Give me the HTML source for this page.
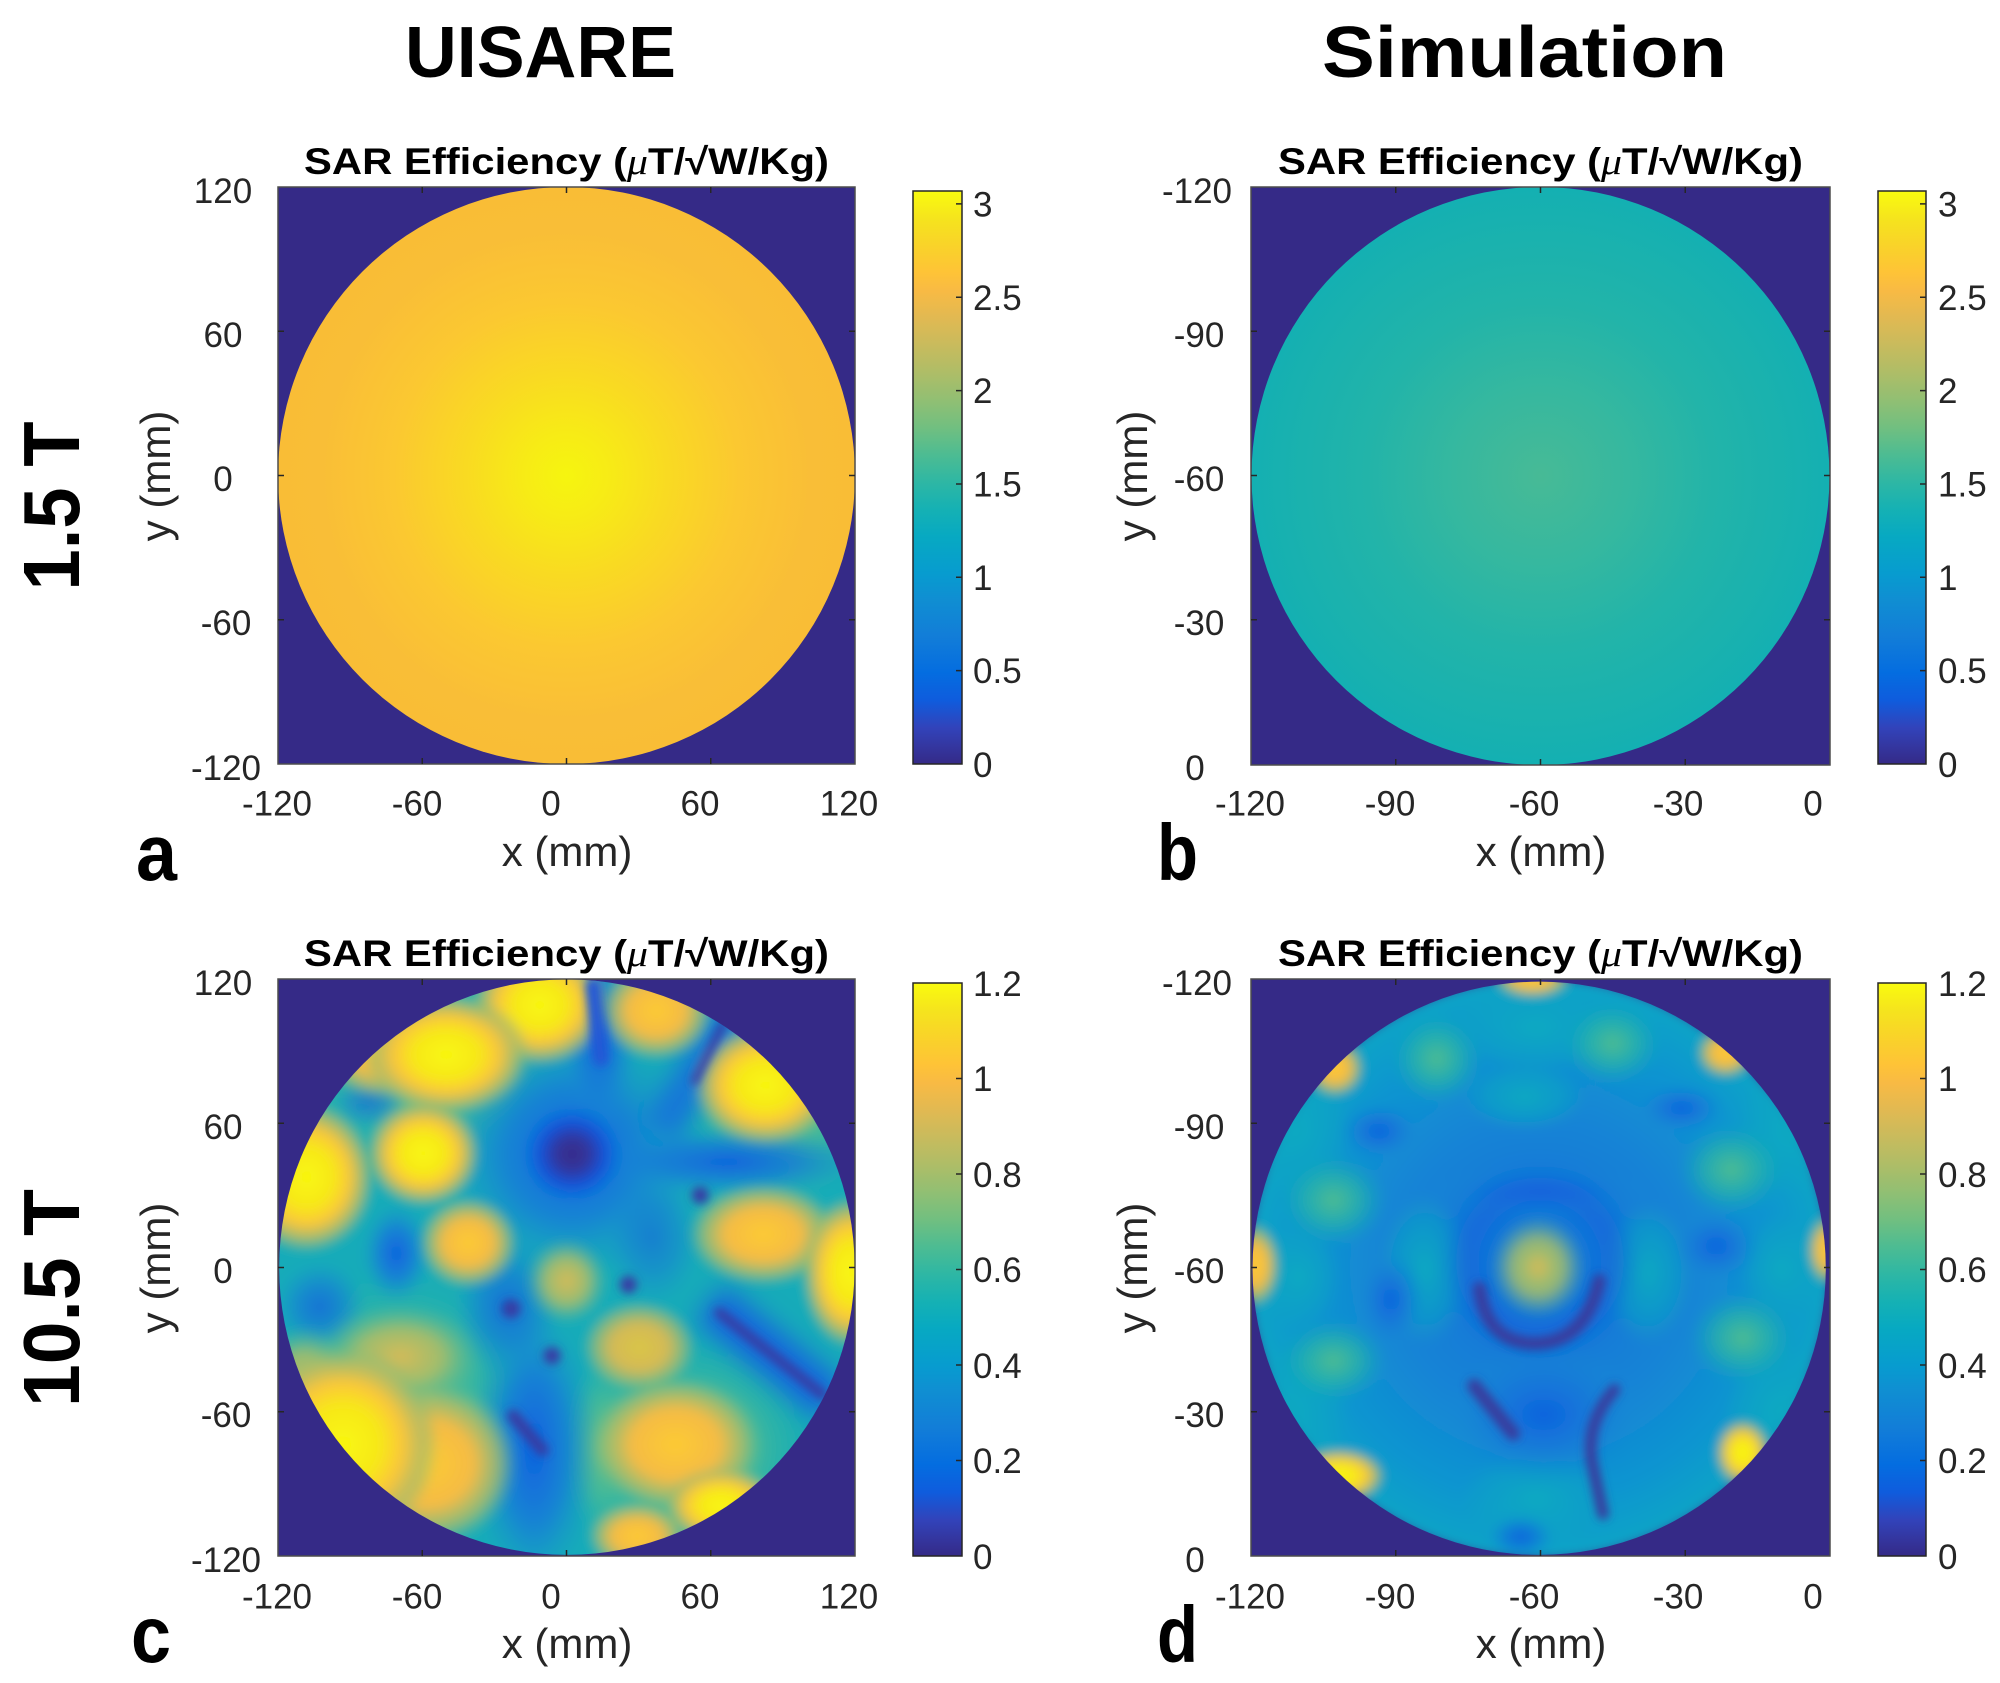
<!DOCTYPE html>
<html><head><meta charset="utf-8"><style>
html,body{margin:0;padding:0;background:#fff;}
svg{display:block;}
text{font-family:"Liberation Sans",Arial,sans-serif;fill:#262626;}
.big{fill:#000;font-weight:bold;}
.tk{font-size:35px;}
.lb{font-size:42px;}
.tt{font-size:37px;font-weight:bold;fill:#000;}
</style></head><body>
<svg width="2000" height="1683" viewBox="0 0 2000 1683" xmlns="http://www.w3.org/2000/svg">
<defs>
<linearGradient id="parula" x1="0" y1="1" x2="0" y2="0">
<stop offset="0" stop-color="#352a87"/><stop offset="0.063" stop-color="#3243ba"/><stop offset="0.111" stop-color="#0f5cdd"/><stop offset="0.159" stop-color="#046de0"/><stop offset="0.222" stop-color="#127dd8"/><stop offset="0.286" stop-color="#108ed2"/><stop offset="0.333" stop-color="#079ccf"/><stop offset="0.397" stop-color="#07a9c2"/><stop offset="0.444" stop-color="#15b1b4"/><stop offset="0.492" stop-color="#2eb7a4"/><stop offset="0.540" stop-color="#4dbc92"/><stop offset="0.587" stop-color="#71bf80"/><stop offset="0.635" stop-color="#91bf73"/><stop offset="0.683" stop-color="#aebd67"/><stop offset="0.730" stop-color="#c8bb5d"/><stop offset="0.778" stop-color="#e1b952"/><stop offset="0.825" stop-color="#f8ba44"/><stop offset="0.857" stop-color="#fec337"/><stop offset="0.905" stop-color="#f9d329"/><stop offset="0.952" stop-color="#f5e41d"/><stop offset="1" stop-color="#f9fb0e"/>
</linearGradient>
<radialGradient id="gA" cx="0.5" cy="0.5" r="0.5">
<stop offset="0" stop-color="#f6f50f"/><stop offset="0.15" stop-color="#f7eb16"/><stop offset="0.35" stop-color="#f9da22"/><stop offset="0.6" stop-color="#fbc831"/><stop offset="0.85" stop-color="#f9be37"/><stop offset="1" stop-color="#f9bd36"/>
</radialGradient>
<radialGradient id="gBb" cx="0.5" cy="0.5" r="0.5">
<stop offset="0" stop-color="#47ba96"/><stop offset="0.3" stop-color="#36b89f"/><stop offset="0.6" stop-color="#22b4a9"/><stop offset="1" stop-color="#14b0b2"/>
</radialGradient>
<radialGradient id="gY"><stop offset="0" stop-color="#f9f80f"/><stop offset="0.4" stop-color="#f7e71a"/><stop offset="0.62" stop-color="#fbc63a"/><stop offset="0.82" stop-color="#b4bc64" stop-opacity="0.85"/><stop offset="1" stop-color="#6dbe82" stop-opacity="0"/></radialGradient>
<radialGradient id="gO"><stop offset="0" stop-color="#fccb33"/><stop offset="0.5" stop-color="#f5bb45"/><stop offset="0.78" stop-color="#a8bd69" stop-opacity="0.8"/><stop offset="1" stop-color="#5dbd8a" stop-opacity="0"/></radialGradient>
<radialGradient id="gT"><stop offset="0" stop-color="#d6bb57"/><stop offset="0.5" stop-color="#a9bd68" stop-opacity="0.9"/><stop offset="1" stop-color="#4dbc92" stop-opacity="0"/></radialGradient>
<radialGradient id="gG"><stop offset="0" stop-color="#70bf80"/><stop offset="0.5" stop-color="#4bbb93" stop-opacity="0.75"/><stop offset="1" stop-color="#2eb7a4" stop-opacity="0"/></radialGradient>
<radialGradient id="gGs"><stop offset="0" stop-color="#4fbc91"/><stop offset="0.5" stop-color="#2db6a4" stop-opacity="0.7"/><stop offset="1" stop-color="#12aab8" stop-opacity="0"/></radialGradient>
<radialGradient id="gC"><stop offset="0" stop-color="#0ca9c1"/><stop offset="0.6" stop-color="#0ca5c4" stop-opacity="0.6"/><stop offset="1" stop-color="#10a8bf" stop-opacity="0"/></radialGradient>
<radialGradient id="gB"><stop offset="0" stop-color="#0f62de"/><stop offset="0.5" stop-color="#1478d9" stop-opacity="0.75"/><stop offset="1" stop-color="#108ed2" stop-opacity="0"/></radialGradient>
<radialGradient id="gD"><stop offset="0" stop-color="#352a87"/><stop offset="0.3" stop-color="#33379f"/><stop offset="0.55" stop-color="#1353d8"/><stop offset="0.8" stop-color="#0f73dc" stop-opacity="0.6"/><stop offset="1" stop-color="#108ed2" stop-opacity="0"/></radialGradient>
<radialGradient id="gDbase"><stop offset="0" stop-color="#1470da"/><stop offset="0.5" stop-color="#1483d6"/><stop offset="0.8" stop-color="#0f95d0"/><stop offset="1" stop-color="#0aa5c6"/></radialGradient>
<filter id="bl" x="-30%" y="-30%" width="160%" height="160%"><feGaussianBlur stdDeviation="12"/></filter>
<filter id="bl2" x="-30%" y="-30%" width="160%" height="160%"><feGaussianBlur stdDeviation="30"/></filter>
<filter id="soft" x="-5%" y="-5%" width="110%" height="110%"><feGaussianBlur stdDeviation="14"/></filter>
<clipPath id="clipC"><circle cx="776" cy="776" r="753"/></clipPath>
<clipPath id="clipD"><circle cx="768" cy="778" r="749"/></clipPath>
</defs>

<!-- Column titles -->
<text class="big" x="405" y="77" font-size="72" textLength="271" lengthAdjust="spacingAndGlyphs">UISARE</text>
<text class="big" x="1322" y="77" font-size="72" textLength="405" lengthAdjust="spacingAndGlyphs">Simulation</text>
<!-- Row labels -->
<text class="big" transform="translate(79,506) rotate(-90)" text-anchor="middle" font-size="80" textLength="169" lengthAdjust="spacingAndGlyphs">1.5 T</text>
<text class="big" transform="translate(79,1298) rotate(-90)" text-anchor="middle" font-size="80" textLength="218" lengthAdjust="spacingAndGlyphs">10.5 T</text>
<!-- Panel letters -->
<text class="big" x="136" y="880" font-size="80" textLength="41" lengthAdjust="spacingAndGlyphs">a</text>
<text class="big" x="1157" y="880" font-size="80" textLength="41" lengthAdjust="spacingAndGlyphs">b</text>
<text class="big" x="131" y="1662" font-size="80" textLength="40" lengthAdjust="spacingAndGlyphs">c</text>
<text class="big" x="1157" y="1662" font-size="80" textLength="41" lengthAdjust="spacingAndGlyphs">d</text>

<!-- Axis titles -->
<text class="tt" x="566.5" y="174" text-anchor="middle" textLength="525" lengthAdjust="spacingAndGlyphs">SAR Efficiency (<tspan font-family="Liberation Serif" font-style="italic" font-weight="normal">μ</tspan>T/√W/Kg)</text>
<text class="tt" x="1540.5" y="174" text-anchor="middle" textLength="525" lengthAdjust="spacingAndGlyphs">SAR Efficiency (<tspan font-family="Liberation Serif" font-style="italic" font-weight="normal">μ</tspan>T/√W/Kg)</text>
<text class="tt" x="566.5" y="966" text-anchor="middle" textLength="525" lengthAdjust="spacingAndGlyphs">SAR Efficiency (<tspan font-family="Liberation Serif" font-style="italic" font-weight="normal">μ</tspan>T/√W/Kg)</text>
<text class="tt" x="1540.5" y="966" text-anchor="middle" textLength="525" lengthAdjust="spacingAndGlyphs">SAR Efficiency (<tspan font-family="Liberation Serif" font-style="italic" font-weight="normal">μ</tspan>T/√W/Kg)</text>

<!-- ===== Panel a ===== -->
<rect x="278" y="187" width="577" height="577" fill="#352a87"/>
<circle cx="566.5" cy="475.5" r="288.5" fill="url(#gA)"/>
<!-- ===== Panel b ===== -->
<rect x="1251" y="187" width="579" height="578" fill="#352a87"/>
<circle cx="1540.5" cy="476" r="289" fill="url(#gBb)"/>

<!-- ===== Panel c ===== -->
<rect x="278" y="979" width="577" height="577" fill="#352a87"/>
<svg x="278" y="979" width="577" height="577" viewBox="20 22 1510 1510" preserveAspectRatio="none">
<g clip-path="url(#clipC)">
<g filter="url(#soft)">
<rect x="-50" y="-50" width="1650" height="1650" fill="#15abb9"/>
<ellipse cx="330" cy="1150" rx="380" ry="380" fill="url(#gG)"/>
<ellipse cx="1100" cy="1250" rx="340" ry="300" fill="url(#gG)"/>
<ellipse cx="1350" cy="330" rx="300" ry="280" fill="url(#gG)"/>
<ellipse cx="400" cy="250" rx="360" ry="260" fill="url(#gG)"/>
<ellipse cx="870" cy="1250" rx="120" ry="250" fill="url(#gG)"/>
<ellipse cx="600" cy="200" rx="80" ry="200" fill="url(#gG)"/>
<ellipse cx="790" cy="480" rx="330" ry="320" fill="url(#gB)"/>
<ellipse cx="790" cy="480" rx="240" ry="240" fill="url(#gB)"/>
<ellipse cx="860" cy="170" rx="100" ry="250" fill="url(#gB)"/>
<ellipse cx="690" cy="1250" rx="170" ry="360" fill="url(#gB)"/>
<ellipse cx="690" cy="1250" rx="110" ry="300" fill="url(#gB)"/>
<ellipse cx="330" cy="740" rx="90" ry="130" fill="url(#gB)"/>
<ellipse cx="330" cy="740" rx="60" ry="90" fill="url(#gB)"/>
<ellipse cx="130" cy="880" rx="120" ry="120" fill="url(#gB)" opacity="0.8"/>
<ellipse cx="260" cy="340" rx="100" ry="75" fill="url(#gB)" opacity="0.7"/>
<ellipse cx="1200" cy="500" rx="360" ry="90" fill="url(#gB)"/>
<ellipse cx="620" cy="880" rx="140" ry="190" fill="url(#gB)" opacity="0.8"/>
<ellipse cx="1000" cy="700" rx="130" ry="180" fill="url(#gB)" opacity="0.6"/>
<g filter="url(#bl2)">
<line x1="1150" y1="870" x2="1470" y2="1130" stroke="#1468db" stroke-width="120"/>
<line x1="1020" y1="420" x2="1210" y2="110" stroke="#1674d9" stroke-width="100"/>
</g>
<!-- warm -->
<ellipse cx="705" cy="90" rx="180" ry="160" fill="url(#gY)"/>
<ellipse cx="290" cy="215" rx="150" ry="120" fill="url(#gO)"/>
<ellipse cx="460" cy="220" rx="220" ry="160" fill="url(#gY)"/>
<ellipse cx="1010" cy="105" rx="150" ry="130" fill="url(#gO)"/>
<ellipse cx="1295" cy="300" rx="190" ry="160" fill="url(#gY)"/>
<ellipse cx="95" cy="540" rx="180" ry="200" fill="url(#gY)"/>
<ellipse cx="400" cy="478" rx="150" ry="140" fill="url(#gY)"/>
<ellipse cx="518" cy="712" rx="130" ry="120" fill="url(#gO)"/>
<ellipse cx="775" cy="812" rx="110" ry="115" fill="url(#gT)"/>
<ellipse cx="1290" cy="690" rx="200" ry="135" fill="url(#gO)"/>
<ellipse cx="1520" cy="790" rx="130" ry="200" fill="url(#gY)"/>
<ellipse cx="965" cy="985" rx="150" ry="120" fill="url(#gO)" opacity="0.85"/>
<ellipse cx="340" cy="1010" rx="220" ry="140" fill="url(#gT)"/>
<ellipse cx="90" cy="1080" rx="130" ry="150" fill="url(#gT)"/>
<ellipse cx="410" cy="1290" rx="240" ry="220" fill="url(#gO)"/>
<ellipse cx="190" cy="1240" rx="250" ry="260" fill="url(#gY)"/>
<ellipse cx="1060" cy="1240" rx="230" ry="180" fill="url(#gO)"/>
<ellipse cx="1180" cy="1400" rx="150" ry="100" fill="url(#gY)"/>
<ellipse cx="960" cy="1480" rx="130" ry="90" fill="url(#gO)"/>
<!-- dark -->
<ellipse cx="790" cy="480" rx="150" ry="145" fill="url(#gD)"/>
</g>
<g filter="url(#bl)" stroke="#383ea4" fill="#383ea4" stroke-linecap="round">
<line x1="845" y1="40" x2="865" y2="230" stroke="#2358d6" stroke-width="40"/>
<line x1="1110" y1="290" x2="1185" y2="140" stroke-width="20"/>
<line x1="1175" y1="895" x2="1445" y2="1110" stroke-width="26"/>
<line x1="635" y1="1165" x2="712" y2="1255" stroke-width="32"/>
<circle cx="1125" cy="588" r="22"/>
<circle cx="937" cy="822" r="22"/>
<circle cx="630" cy="885" r="24"/>
<circle cx="737" cy="1008" r="22"/>
</g>
</g>
</svg>

<!-- ===== Panel d ===== -->
<rect x="1251" y="979" width="579" height="577" fill="#352a87"/>
<svg x="1251" y="979" width="579" height="577" viewBox="15 22 1513 1508" preserveAspectRatio="none">
<g clip-path="url(#clipD)">
<g filter="url(#soft)">
<circle cx="768" cy="778" r="760" fill="url(#gDbase)"/>
<ellipse cx="470" cy="780" rx="120" ry="200" fill="url(#gC)"/>
<ellipse cx="1050" cy="790" rx="120" ry="190" fill="url(#gC)"/>
<ellipse cx="760" cy="1380" rx="200" ry="130" fill="url(#gC)"/>
<ellipse cx="760" cy="150" rx="220" ry="120" fill="url(#gC)"/>
<ellipse cx="130" cy="420" rx="150" ry="170" fill="url(#gC)"/>
<ellipse cx="1420" cy="420" rx="140" ry="170" fill="url(#gC)"/>
<ellipse cx="120" cy="1150" rx="150" ry="170" fill="url(#gC)"/>
<ellipse cx="1400" cy="1150" rx="150" ry="170" fill="url(#gC)"/>
<ellipse cx="730" cy="330" rx="160" ry="90" fill="url(#gC)"/>
<ellipse cx="1400" cy="780" rx="110" ry="140" fill="url(#gC)"/>
<ellipse cx="140" cy="800" rx="110" ry="140" fill="url(#gC)"/>
<ellipse cx="500" cy="230" rx="120" ry="120" fill="url(#gGs)"/>
<ellipse cx="960" cy="190" rx="130" ry="110" fill="url(#gGs)"/>
<ellipse cx="230" cy="600" rx="140" ry="120" fill="url(#gGs)"/>
<ellipse cx="1270" cy="520" rx="140" ry="120" fill="url(#gGs)"/>
<ellipse cx="230" cy="1020" rx="140" ry="110" fill="url(#gGs)"/>
<ellipse cx="1300" cy="960" rx="140" ry="120" fill="url(#gGs)"/>
<ellipse cx="350" cy="420" rx="110" ry="80" fill="url(#gB)"/>
<ellipse cx="1140" cy="360" rx="120" ry="70" fill="url(#gB)"/>
<ellipse cx="1230" cy="720" rx="120" ry="100" fill="url(#gB)"/>
<ellipse cx="380" cy="860" rx="90" ry="130" fill="url(#gB)"/>
<ellipse cx="770" cy="580" rx="290" ry="70" fill="url(#gB)"/>
<ellipse cx="780" cy="1160" rx="260" ry="190" fill="url(#gB)"/>
<ellipse cx="720" cy="1480" rx="90" ry="60" fill="url(#gB)"/>
<g filter="url(#bl2)"><circle cx="770" cy="760" r="190" fill="none" stroke="#1462db" stroke-width="60" opacity="0.8"/></g>
<ellipse cx="765" cy="775" rx="125" ry="135" fill="url(#gT)"/>
<ellipse cx="765" cy="775" rx="65" ry="70" fill="url(#gT)" opacity="0.8"/>
<ellipse cx="25" cy="770" rx="65" ry="110" fill="url(#gO)"/>
<ellipse cx="235" cy="255" rx="75" ry="75" fill="url(#gO)"/>
<ellipse cx="1255" cy="215" rx="75" ry="65" fill="url(#gO)"/>
<ellipse cx="245" cy="1320" rx="120" ry="70" fill="url(#gY)"/>
<ellipse cx="1300" cy="1260" rx="70" ry="85" fill="url(#gY)"/>
<ellipse cx="1520" cy="730" rx="50" ry="90" fill="url(#gO)"/>
<ellipse cx="750" cy="25" rx="100" ry="45" fill="url(#gO)"/>
</g>
<g filter="url(#bl)" fill="none" stroke="#393c9f" stroke-linecap="round">
<path d="M612 830 Q630 975 760 975 Q890 970 925 810" stroke-width="34"/>
<path d="M598 1085 L700 1210" stroke-width="36"/>
<path d="M965 1095 Q890 1180 905 1280 L935 1420" stroke-width="30"/>
</g>
</g>
</svg>

<!-- Axes boxes and ticks -->
<g fill="none" stroke="#4d4d4d" stroke-width="1.5">
<rect x="278" y="187" width="577" height="577"/>
<rect x="1251" y="187" width="579" height="578"/>
<rect x="278" y="979" width="577" height="577"/>
<rect x="1251" y="979" width="579" height="577"/>
</g>
<g stroke="#262626" stroke-width="1.5">
<path d="M422.25 187v6M566.5 187v6M710.75 187v6M422.25 764v-6M566.5 764v-6M710.75 764v-6M278 331.25h6M278 475.5h6M278 619.75h6M855 331.25h-6M855 475.5h-6M855 619.75h-6"/>
<path d="M1395.75 187v6M1540.5 187v6M1685.25 187v6M1395.75 765v-6M1540.5 765v-6M1685.25 765v-6M1251 331.25h6M1251 475.5h6M1251 619.75h6M1830 331.25h-6M1830 475.5h-6M1830 619.75h-6"/>
<path d="M422.25 979v6M566.5 979v6M710.75 979v6M422.25 1556v-6M566.5 1556v-6M710.75 1556v-6M278 1123.25h6M278 1267.5h6M278 1411.75h6M855 1123.25h-6M855 1267.5h-6M855 1411.75h-6"/>
<path d="M1395.75 979v6M1540.5 979v6M1685.25 979v6M1395.75 1556v-6M1540.5 1556v-6M1685.25 1556v-6M1251 1123.25h6M1251 1267.5h6M1251 1411.75h6M1830 1123.25h-6M1830 1267.5h-6M1830 1411.75h-6"/>
</g>

<!-- Colorbars -->
<rect x="913" y="191" width="49" height="573" fill="url(#parula)" stroke="#262626" stroke-width="1.5"/>
<rect x="1878" y="191" width="48" height="573" fill="url(#parula)" stroke="#262626" stroke-width="1.5"/>
<rect x="913" y="983" width="49" height="573" fill="url(#parula)" stroke="#262626" stroke-width="1.5"/>
<rect x="1878" y="983" width="48" height="573" fill="url(#parula)" stroke="#262626" stroke-width="1.5"/>
<g stroke="#262626" stroke-width="1.5">
<path d="M962 670.65h-6M962 577.3h-6M962 483.95h-6M962 390.6h-6M962 297.25h-6M962 203.9h-6"/>
<path d="M1926 670.65h-6M1926 577.3h-6M1926 483.95h-6M1926 390.6h-6M1926 297.25h-6M1926 203.9h-6"/>
<path d="M962 1460.5h-6M962 1365h-6M962 1269.5h-6M962 1174h-6M962 1078.5h-6"/>
<path d="M1926 1460.5h-6M1926 1365h-6M1926 1269.5h-6M1926 1174h-6M1926 1078.5h-6"/>
</g>

<!-- Colorbar labels -->
<g class="tk">
<text x="973" y="777">0</text><text x="973" y="683">0.5</text><text x="973" y="590">1</text><text x="973" y="496.5">1.5</text><text x="973" y="403">2</text><text x="973" y="310">2.5</text><text x="973" y="216.5">3</text>
<text x="1938" y="777">0</text><text x="1938" y="683">0.5</text><text x="1938" y="590">1</text><text x="1938" y="496.5">1.5</text><text x="1938" y="403">2</text><text x="1938" y="310">2.5</text><text x="1938" y="216.5">3</text>
<text x="973" y="1569">0</text><text x="973" y="1473">0.2</text><text x="973" y="1378">0.4</text><text x="973" y="1282">0.6</text><text x="973" y="1187">0.8</text><text x="973" y="1091">1</text><text x="973" y="996">1.2</text>
<text x="1938" y="1569">0</text><text x="1938" y="1473">0.2</text><text x="1938" y="1378">0.4</text><text x="1938" y="1282">0.6</text><text x="1938" y="1187">0.8</text><text x="1938" y="1091">1</text><text x="1938" y="996">1.2</text>
</g>

<!-- Y tick labels -->
<g class="tk" text-anchor="middle">
<text x="223" y="203">120</text><text x="223" y="347">60</text><text x="223" y="491">0</text><text x="226" y="635">-60</text><text x="226" y="780">-120</text>
<text x="1197" y="203">-120</text><text x="1199" y="347">-90</text><text x="1199" y="491">-60</text><text x="1199" y="635">-30</text><text x="1195" y="780">0</text>
<text x="223" y="995">120</text><text x="223" y="1139">60</text><text x="223" y="1283">0</text><text x="226" y="1427">-60</text><text x="226" y="1572">-120</text>
<text x="1197" y="995">-120</text><text x="1199" y="1139">-90</text><text x="1199" y="1283">-60</text><text x="1199" y="1427">-30</text><text x="1195" y="1572">0</text>
</g>

<!-- X tick labels -->
<g class="tk" text-anchor="middle">
<text x="277" y="815.5">-120</text><text x="417" y="815.5">-60</text><text x="551" y="815.5">0</text><text x="700" y="815.5">60</text><text x="849" y="815.5">120</text>
<text x="1250" y="815.5">-120</text><text x="1390" y="815.5">-90</text><text x="1534" y="815.5">-60</text><text x="1678" y="815.5">-30</text><text x="1813" y="815.5">0</text>
<text x="277" y="1608.5">-120</text><text x="417" y="1608.5">-60</text><text x="551" y="1608.5">0</text><text x="700" y="1608.5">60</text><text x="849" y="1608.5">120</text>
<text x="1250" y="1608.5">-120</text><text x="1390" y="1608.5">-90</text><text x="1534" y="1608.5">-60</text><text x="1678" y="1608.5">-30</text><text x="1813" y="1608.5">0</text>
</g>

<!-- Axis labels -->
<g class="lb" text-anchor="middle">
<text x="567" y="866">x (mm)</text>
<text x="1541" y="866">x (mm)</text>
<text x="567" y="1658">x (mm)</text>
<text x="1541" y="1658">x (mm)</text>
<text transform="translate(170,476) rotate(-90)">y (mm)</text>
<text transform="translate(1147,476) rotate(-90)">y (mm)</text>
<text transform="translate(170,1268) rotate(-90)">y (mm)</text>
<text transform="translate(1147,1268) rotate(-90)">y (mm)</text>
</g>
</svg>
</body></html>
